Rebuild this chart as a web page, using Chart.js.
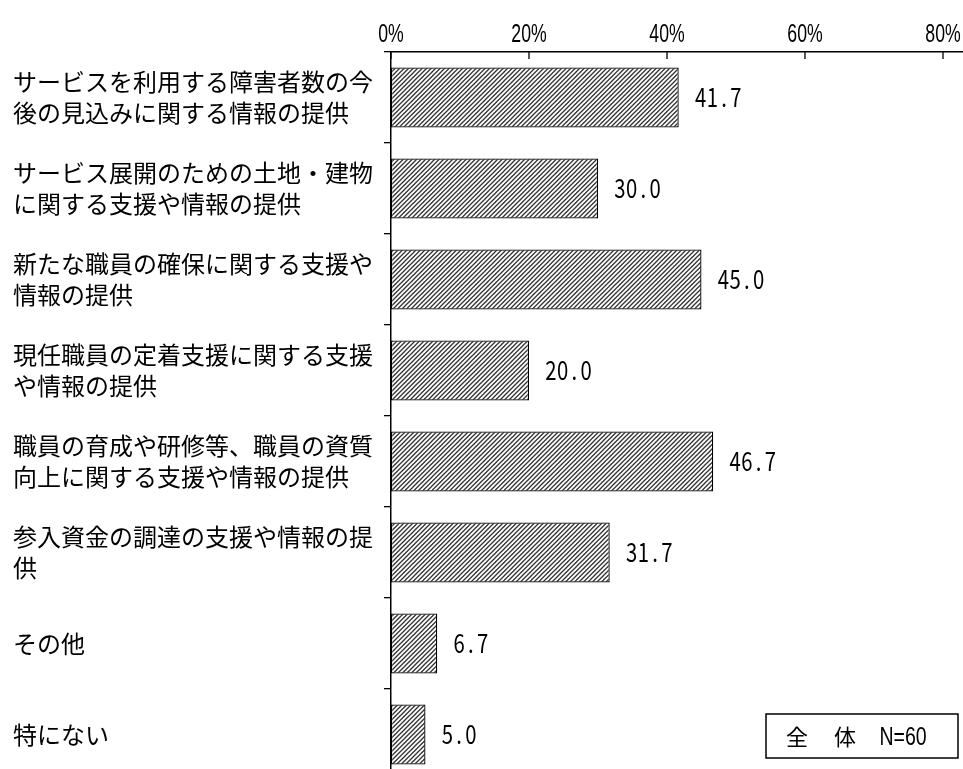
<!DOCTYPE html>
<html>
<head>
<meta charset="utf-8">
<script src="https://cdn.jsdelivr.net/npm/chart.js@4.4.1/dist/chart.umd.min.js"></script>
<style>
html,body{margin:0;padding:0;background:#fff;overflow:hidden;}
</style>
</head>
<body>
<canvas id="Grafica" width="963" height="780"></canvas>
<script>
// 項目
const categories = [
    ['サービスを利用する障害者数の今', '後の見込みに関する情報の提供'],
    ['サービス展開のための土地・建物', 'に関する支援や情報の提供'],
    ['新たな職員の確保に関する支援や', '情報の提供'],
    ['現任職員の定着支援に関する支援', 'や情報の提供'],
    ['職員の育成や研修等、職員の資質', '向上に関する支援や情報の提供'],
    ['参入資金の調達の支援や情報の提', '供'],
    'その他',
    '特にない'
];
const values = [41.7, 30.0, 45.0, 20.0, 46.7, 31.7, 6.7, 5.0];
const xTickValues = [0, 20, 40, 60, 80];
const legendParts = ['全', '体', 'N=60'];

const JP = '"Noto Sans CJK JP", sans-serif';
const LAT = '"Liberation Sans", Arial, sans-serif';

function makeHatch(){
    let c = document.createElement('canvas');
    c.width = 9; c.height = 9;
    let g = c.getContext('2d');
    g.fillStyle = '#fff';
    g.fillRect(0, 0, 9, 9);
    g.strokeStyle = '#333';
    g.lineWidth = 1.3;
    for (let k = -1; k <= 5; k++){
        let c0 = k*4.5;
        g.beginPath();
        g.moveTo(c0+1, -1);
        g.lineTo(c0-10, 10);
        g.stroke();
    }
    return g.createPattern(c, 'repeat');
}

// 半角セルごとに文字を置く（等幅風）
function drawCells(ctx, text, x, y, cell, font, sx){
    ctx.font = font;
    ctx.textAlign = 'center';
    ctx.textBaseline = 'alphabetic';
    for (let i = 0; i < text.length; i++){
        ctx.save();
        ctx.translate(x + cell*(i+0.5), y);
        ctx.scale(sx, 1);
        ctx.fillText(text[i], 0, 0);
        ctx.restore();
    }
}

function drawNarrow(ctx, text, cx, y, font, sx){
    ctx.save();
    ctx.font = font;
    ctx.textAlign = 'center';
    ctx.textBaseline = 'alphabetic';
    ctx.translate(cx, y);
    ctx.scale(sx, 1);
    ctx.fillText(text, 0, 0);
    ctx.restore();
}

const extras = {
    id: 'extras',
    afterDraw(chart){
        let ctx = chart.ctx;
        let xs = chart.scales.x;
        let top = chart.chartArea.top;
        ctx.save();
        ctx.fillStyle = '#000';
        ctx.strokeStyle = '#000';
        ctx.lineWidth = 1.3;
        // 目盛（内向き）とラベル
        xs.ticks.forEach(t => {
            let px = xs.getPixelForValue(t.value);
            ctx.beginPath();
            ctx.moveTo(px, top);
            ctx.lineTo(px, top + 7);
            ctx.stroke();
            drawNarrow(ctx, t.value + '%', px, 42, '26px ' + LAT, 0.68);
        });
        // 数値ラベル
        let meta = chart.getDatasetMeta(0);
        meta.data.forEach((bar, i) => {
            drawCells(ctx, values[i].toFixed(1), bar.x + 16, bar.y + 9.5, 11.75, '26px ' + JP, 0.78);
        });
        // 凡例ボックス
        ctx.fillStyle = '#fff';
        ctx.fillRect(766, 714, 192, 44);
        ctx.lineWidth = 1.5;
        ctx.strokeRect(766, 714, 192, 44);
        ctx.fillStyle = '#000';
        ctx.font = '22px ' + JP;
        ctx.textAlign = 'center';
        ctx.textBaseline = 'middle';
        ctx.fillText(legendParts[0], 797, 737);
        ctx.fillText(legendParts[1], 845, 737);
        drawNarrow(ctx, legendParts[2], 903, 745, '25px ' + LAT, 0.78);
        ctx.restore();
    }
};

let ctx = document.getElementById('Grafica').getContext('2d');
new Chart(ctx, {
    type: 'bar',
    data: {
        labels: categories,
        datasets: [{
            data: values,
            backgroundColor: makeHatch(),
            borderColor: '#000',
            borderWidth: 1.3,
            borderSkipped: false,
            barPercentage: 0.66,
            categoryPercentage: 1
        }]
    },
    options: {
        indexAxis: 'y',
        responsive: false,
        devicePixelRatio: 1,
        animation: false,
        layout: {padding: {top: 44, left: 13, right: 0, bottom: 0}},
        plugins: {legend: {display: false}, tooltip: {enabled: false}},
        scales: {
            x: {
                position: 'top',
                min: 0,
                max: 82.9,
                afterBuildTicks: s => { s.ticks = xTickValues.map(v => ({value: v})); },
                ticks: {display: false},
                grid: {display: false},
                border: {display: true, color: '#000', width: 1.5}
            },
            y: {
                offset: true,
                grid: {display: true, offset: true, drawOnChartArea: false, drawTicks: true, tickLength: 7, color: '#000', lineWidth: 1.3},
                border: {display: true, color: '#000', width: 1.5},
                ticks: {crossAlign: 'far', autoSkip: false, color: '#000', font: {family: JP, size: 24, lineHeight: 1.3}},
                afterFit: s => { s.width = 378; s.paddingTop = 0; s.paddingBottom = 0; }
            }
        }
    },
    plugins: [extras]
});
</script>
</body>
</html>
